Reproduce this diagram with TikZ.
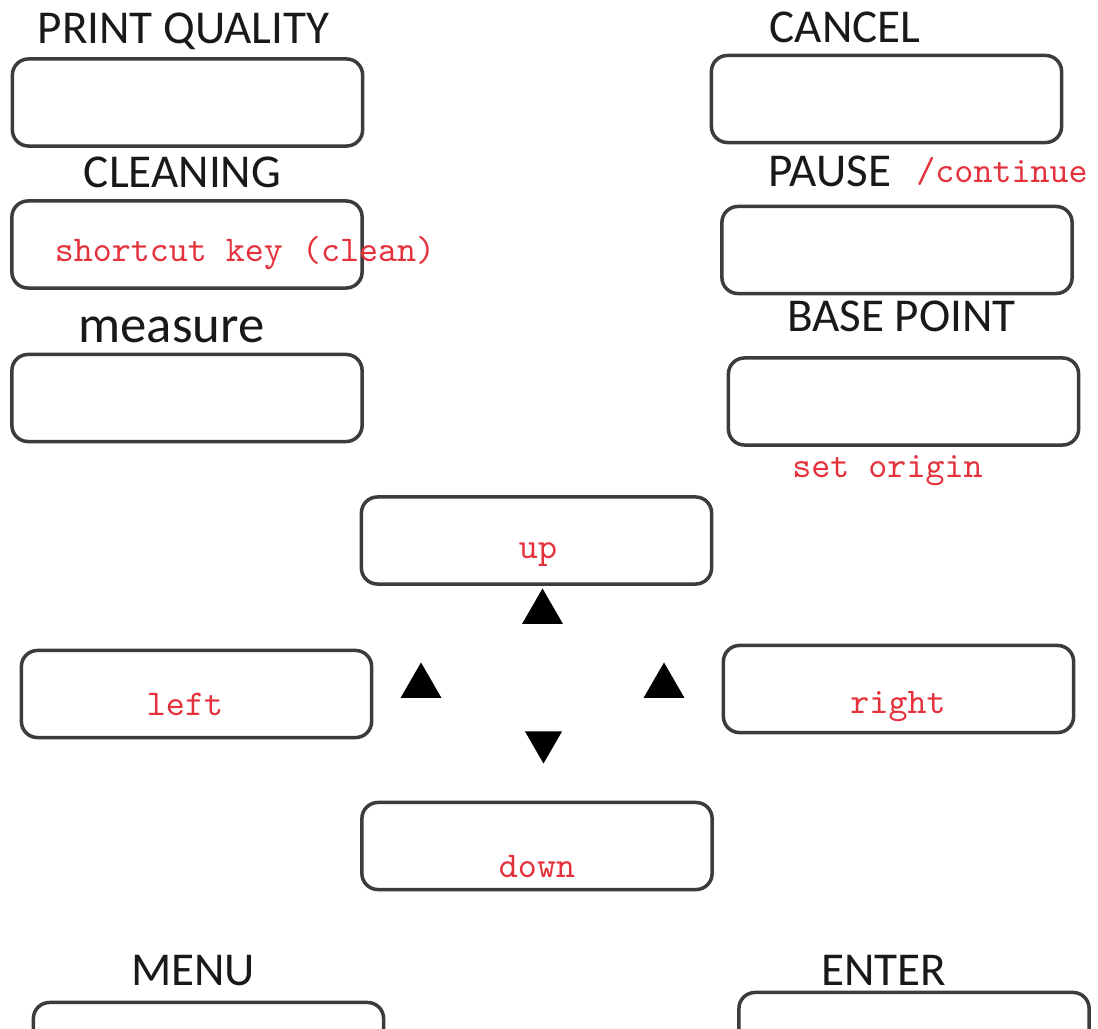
\documentclass[tikz,border=0pt]{standalone}
\usepackage{fontspec}
\setmainfont{Carlito}
\usepackage{xcolor}
\usetikzlibrary{shapes.geometric}
\definecolor{keyred}{RGB}{228,50,60}
\definecolor{keyline}{RGB}{60,60,60}

\begin{document}
\begin{tikzpicture}[
  x=0.01cm, y=-0.01cm,
  keybox/.style={draw=keyline, line width=1pt, rounded corners=1.6mm,
    minimum width=3.5cm, minimum height=0.87cm, inner sep=0pt},
  keytitle/.style={anchor=base, inner sep=0pt, text=black!90,
    font=\fontsize{13.4}{16}\selectfont},
  keynote/.style={anchor=base, inner sep=0pt, text=keyred,
    font=\ttfamily\fontsize{10.3}{12}\selectfont},
  keymark/.style={regular polygon, regular polygon sides=3, fill=black,
    inner sep=0pt, minimum size=0.47cm}
]
  \useasboundingbox (0,0) rectangle (1098,1028);
  \clip (0,0) rectangle (1098,1028);

  % left column
  \node[keytitle] (tpq) at (183.5,44) {PRINT QUALITY};
  \node[keybox] (pq) at (187.5,102.5) {};
  \node[keytitle] (tclean) at (182.5,188) {CLEANING};
  \node[keybox] (clean) at (187,244.5) {};
  \node[keynote] (nclean) at (245,262) {shortcut key (clean)};
  \node[keytitle, font=\fontsize{15}{18}\selectfont] (tmeas) at (171.5,343) {measure};
  \node[keybox] (meas) at (187,398) {};

  % right column
  \node[keytitle] (tcancel) at (845,43) {CANCEL};
  \node[keybox] (cancel) at (886.5,99) {};
  \node[keytitle] (tpause) at (830,187) {PAUSE};
  \node[keynote] (npause) at (1002,183) {/continue};
  \node[keybox] (pause) at (897,250) {};
  \node[keytitle] (tbase) at (901.5,332) {BASE POINT};
  \node[keybox] (base) at (903.5,401.5) {};
  \node[keynote] (nbase) at (887.5,477) {set origin};

  % arrow keys
  \node[keybox] (up) at (536.5,540.5) {};
  \node[keynote] (nup) at (538,558) {up};
  \node[keybox] (left) at (196.5,694) {};
  \node[keynote] (nleft) at (185,715) {left};
  \node[keybox] (right) at (898.5,689) {};
  \node[keynote] (nright) at (898,713) {right};
  \node[keybox] (down) at (537,846) {};
  \node[keynote] (ndown) at (537,877) {down};

  \node[keymark] (mup) at (542.5,612) {};
  \node[keymark] (mleft) at (421,686) {};
  \node[keymark] (mright) at (664,686) {};
  \node[keymark, shape border rotate=180, minimum size=0.43cm] (mdown) at (543.5,742) {};

  % bottom row
  \node[keytitle] (tmenu) at (193,985) {MENU};
  \node[keybox] (menu) at (208.5,1046) {};
  \node[keytitle] (tenter) at (884,985) {ENTER};
  \node[keybox] (enter) at (914,1036) {};
\end{tikzpicture}
\end{document}
